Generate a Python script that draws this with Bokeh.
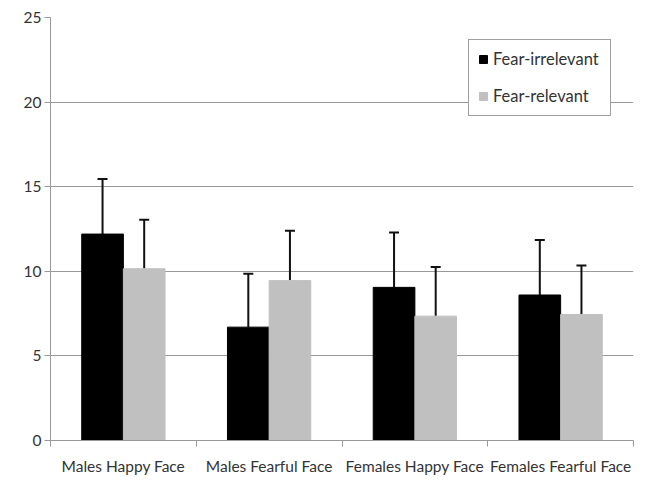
import numpy as np
from bokeh.plotting import figure
from bokeh.models import ColumnDataSource, Whisker, TeeHead, FixedTicker, Range1d
from bokeh.embed import file_html
from bokeh.resources import INLINE

categories = ["Males Happy Face", "Males Fearful Face", "Females Happy Face", "Females Fearful Face"]
fear_irrelevant = [12.2, 6.7, 9.05, 8.6]
fear_irrelevant_err = [3.25, 3.15, 3.25, 3.25]
fear_relevant = [10.15, 9.45, 7.35, 7.45]
fear_relevant_err = [2.9, 2.95, 2.9, 2.9]
y_ticks = [0, 5, 10, 15, 20, 25]

FONT = "Lato"
TXT = "#333333"
GRID = "#999999"

n = len(categories)
centers = np.arange(n) + 0.5
bw = 1 / 3.5

src_a = ColumnDataSource(dict(x=centers - bw / 2, top=fear_irrelevant,
                              upper=np.array(fear_irrelevant) + np.array(fear_irrelevant_err)))
src_b = ColumnDataSource(dict(x=centers + bw / 2, top=fear_relevant,
                              upper=np.array(fear_relevant) + np.array(fear_relevant_err)))

p = figure(frame_width=583, frame_height=423, output_backend="svg", toolbar_location=None,
           x_range=Range1d(0, n), y_range=Range1d(0, 25))
p.min_border_left = 50
p.min_border_right = 4
p.min_border_top = 17
p.min_border_bottom = 32
p.outline_line_color = None
p.background_fill_color = "white"

p.vbar(x="x", top="top", width=bw, source=src_a, color="#000000", legend_label="Fear-irrelevant")
p.vbar(x="x", top="top", width=bw, source=src_b, color="#c0c0c0", legend_label="Fear-relevant")

for s in (src_a, src_b):
    w = Whisker(source=s, base="x", lower="top", upper="upper", dimension="height",
                lower_head=None, upper_head=TeeHead(size=10, line_width=2, line_color="#111111"),
                line_width=2, line_color="#111111")
    p.add_layout(w)

# x axis
p.xaxis.ticker = FixedTicker(ticks=list(centers), minor_ticks=list(range(n + 1)))
p.xaxis.major_label_overrides = {float(c): lab for c, lab in zip(centers, categories)}
p.xaxis.major_tick_line_color = None
p.xaxis.major_tick_out = 0
p.xaxis.major_tick_in = 0
p.xaxis.minor_tick_out = 6
p.xaxis.minor_tick_in = 0
p.xaxis.minor_tick_line_color = GRID
p.xaxis.axis_line_color = GRID
p.xaxis.major_label_standoff = 10
p.xgrid.visible = False

# y axis
p.yaxis.ticker = FixedTicker(ticks=y_ticks)
p.yaxis.minor_tick_line_color = None
p.yaxis.major_tick_out = 6
p.yaxis.major_tick_in = 0
p.yaxis.major_tick_line_color = GRID
p.yaxis.axis_line_color = GRID
p.yaxis.major_label_standoff = 3
p.ygrid.grid_line_color = GRID

for ax in (p.xaxis, p.yaxis):
    ax.major_label_text_font = FONT
    ax.major_label_text_font_size = "15.5px"
    ax.major_label_text_color = TXT

lg = p.legend[0]
lg.location = (418, 324)
lg.border_line_color = "#404040"
lg.border_line_width = 1
lg.background_fill_alpha = 1
lg.label_text_font = FONT
lg.label_text_font_size = "16.5px"
lg.label_text_color = TXT
lg.glyph_width = 10
lg.glyph_height = 10
lg.label_height = 20
lg.spacing = 17
lg.padding = 9
lg.margin = 0
lg.label_standoff = 5
lg.label_width = 108

open("out.html", "w").write(file_html(p, INLINE))
